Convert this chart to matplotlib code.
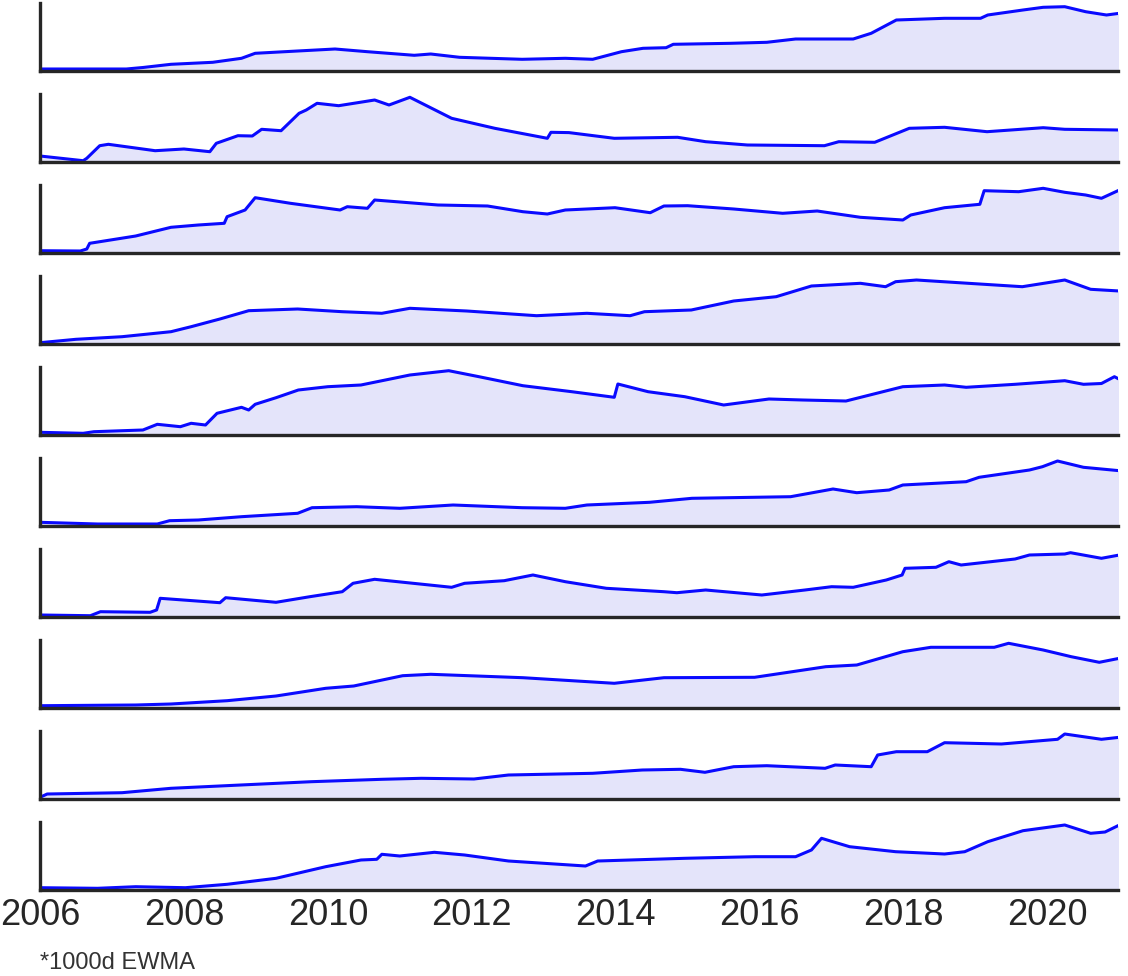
import matplotlib
matplotlib.use("Agg")
import matplotlib.pyplot as plt

plt.rcParams['font.family'] = ['Liberation Sans', 'DejaVu Sans']

tick_years = [2006, 2008, 2010, 2012, 2014, 2016, 2018, 2020]
tick_labels = [str(y) for y in tick_years]
x_range = (2006.0, 2020.98)
footnote = "*1000d EWMA"

# each series: (years, values)
s1_x = [2006.0, 2007.2, 2007.43, 2007.82, 2008.4, 2008.8, 2008.99, 2009.58, 2010.1, 2010.55, 2011.2, 2011.43, 2011.83, 2012.7,
        2013.3, 2013.68, 2014.08, 2014.38, 2014.7, 2014.8, 2015.6, 2016.1, 2016.5, 2017.3, 2017.55, 2017.9, 2018.57, 2019.07,
        2019.17, 2019.66, 2019.94, 2020.24, 2020.53, 2020.82, 2021.0]
s1_y = [2.0, 2.0, 3.5, 6.7, 8.7, 12.7, 17.7, 20, 22, 19.3, 15.7, 17, 13.7, 11.7,
        12.7, 11.7, 19.3, 22.7, 23.3, 26.7, 27.7, 28.7, 32, 32, 37.7, 51, 52.7, 52.7,
        56, 61, 63.7, 64.3, 59.3, 56, 57.7]

s2_x = [2006.0, 2006.6, 2006.65, 2006.83, 2006.95, 2007.6, 2008.0, 2008.36, 2008.45, 2008.75, 2008.95, 2009.08, 2009.35,
        2009.6, 2009.7, 2009.85, 2010.15, 2010.65, 2010.85, 2011.14, 2011.72, 2012.32, 2013.05, 2013.1, 2013.35, 2013.98,
        2014.86, 2015.25, 2015.83, 2016.9, 2017.1, 2017.6, 2018.08, 2018.57, 2019.16, 2019.94, 2020.24, 2021.0]
s2_y = [6, 1.3, 3.7, 16.3, 17.7, 11.3, 13, 10.3, 18.7, 26.3, 26, 32.7, 31.3,
        48.7, 52, 58.7, 56.3, 62, 57, 64.7, 43.7, 33.7, 23.7, 29.7, 29.4, 23.7,
        24.7, 20.3, 17, 16.3, 20.3, 19.7, 33.7, 34.7, 30.3, 34.3, 32.7, 32]

s3_x = [2006.0, 2006.56, 2006.65, 2006.69, 2007.33, 2007.82, 2008.2, 2008.56, 2008.6, 2008.85, 2008.99, 2009.48, 2010.17,
        2010.27, 2010.55, 2010.65, 2011.53, 2012.22, 2012.71, 2013.05, 2013.3, 2013.99, 2014.48, 2014.67, 2015.0, 2015.64,
        2016.32, 2016.8, 2017.4, 2017.99, 2018.1, 2018.57, 2019.06, 2019.12, 2019.6, 2019.94, 2020.24, 2020.53, 2020.75, 2021.0]
s3_y = [2.3, 2, 4, 9.7, 17, 25.7, 28, 29.7, 36.3, 43, 55.3, 49.7, 43,
        46.3, 44.7, 53, 48, 47, 41.3, 39, 43, 45.3, 40.3, 47, 47.3, 44,
        39.7, 42, 35.7, 33, 38, 45.3, 48.7, 62.3, 61.3, 64.7, 60.7, 58, 54.7, 63]

s4_x = [2006.0, 2006.5, 2007.14, 2007.82, 2008.1, 2008.5, 2008.9, 2009.58, 2010.2, 2010.75, 2011.14, 2011.93, 2012.9,
        2013.6, 2014.2, 2014.4, 2015.05, 2015.64, 2016.23, 2016.72, 2017.4, 2017.75, 2017.89, 2018.18, 2018.9, 2019.65,
        2020.24, 2020.6, 2021.0]
s4_y = [1.3, 4.7, 7.3, 12.3, 17.3, 25, 33.3, 35, 32.3, 30.7, 35.7, 33, 28.3,
        30.7, 28.3, 32.3, 34, 43, 47.3, 58, 60.7, 57.3, 62.3, 64, 60.7, 57.3,
        64, 54.7, 53]

s5_x = [2006.0, 2006.6, 2006.75, 2007.43, 2007.63, 2007.95, 2008.1, 2008.3, 2008.46, 2008.8, 2008.9, 2008.99, 2009.28,
        2009.59, 2010.0, 2010.46, 2011.14, 2011.68, 2012.1, 2012.71, 2013.39, 2013.98, 2014.03, 2014.45, 2014.96, 2015.5,
        2016.13, 2016.6, 2017.2, 2017.99, 2018.57, 2018.87, 2019.55, 2020.24, 2020.5, 2020.75, 2020.93, 2021.0]
s5_y = [2.7, 1.7, 3.3, 5, 10.7, 8.3, 11.7, 10, 21.7, 27.7, 25, 30.7, 37.3,
        45, 48.3, 50, 60, 64.3, 58.3, 49.3, 43.3, 37.7, 51, 43.3, 38.3, 30,
        36, 35, 34, 48.3, 50, 47.7, 50.7, 54.3, 50.7, 51.5, 58.3, 55.7]

s6_x = [2006.0, 2006.8, 2007.63, 2007.8, 2008.2, 2008.8, 2009.58, 2009.78, 2010.4, 2011.0, 2011.74, 2012.7, 2013.3,
        2013.6, 2014.47, 2015.06, 2016.43, 2017.02, 2017.35, 2017.8, 2017.99, 2018.87, 2019.05, 2019.75, 2019.93, 2020.14,
        2020.5, 2021.0]
s6_y = [3.7, 2, 2, 5.3, 6, 9.3, 12.7, 18.3, 19.3, 17.7, 21, 18.3, 17.7,
        21, 23.7, 27.7, 29.3, 37, 33.3, 36, 41, 44.3, 48.7, 56, 59.3, 65,
        58.7, 55.3]

s7_x = [2006.0, 2006.7, 2006.84, 2007.53, 2007.62, 2007.67, 2008.5, 2008.58, 2009.28, 2009.75, 2010.2, 2010.35, 2010.65,
        2011.72, 2011.9, 2012.45, 2012.85, 2013.3, 2013.87, 2014.67, 2014.85, 2015.25, 2016.03, 2016.63, 2017.0, 2017.3,
        2017.76, 2017.98, 2018.02, 2018.45, 2018.63, 2018.8, 2019.55, 2019.75, 2020.24, 2020.32, 2020.75, 2021.0]
s7_y = [2, 1.3, 5.3, 4.7, 7, 18.7, 14.3, 19.3, 14.7, 20.3, 25.3, 33.7, 37.7,
        29.7, 33.7, 36.3, 42, 35.3, 28.7, 25.3, 24.3, 27, 22, 27, 30.3, 29.7,
        37, 42, 48.7, 49.7, 55.3, 52, 58, 62, 63, 64.3, 58.7, 62]

s8_x = [2006.0, 2007.33, 2007.82, 2008.6, 2009.28, 2009.97, 2010.36, 2011.04, 2011.43, 2012.71, 2013.98, 2014.67, 2015.93,
        2016.92, 2017.35, 2017.99, 2018.38, 2019.26, 2019.46, 2019.94, 2020.33, 2020.72, 2021.0]
s8_y = [2.3, 3, 4, 7.3, 12, 19.7, 22, 32.3, 33.7, 30.3, 24.7, 30.3, 30.7,
        41.3, 43, 56.3, 60.7, 60.7, 64.7, 58, 51.3, 45.7, 49.7]

s9_x = [2006.0, 2006.1, 2007.14, 2007.82, 2008.79, 2009.77, 2010.75, 2011.3, 2012.03, 2012.51, 2013.68, 2014.37, 2014.9,
        2015.24, 2015.64, 2016.1, 2016.91, 2017.05, 2017.55, 2017.64, 2017.9, 2018.33, 2018.57, 2019.36, 2020.14, 2020.24,
        2020.75, 2021.0]
s9_y = [1.7, 5, 6.3, 10.7, 14, 17.3, 19.7, 20.7, 20, 24, 25.7, 29, 29.7,
        26.7, 32.3, 33.3, 30.7, 34, 32.3, 44, 47.3, 47.3, 56.3, 55, 59.7, 65,
        59.7, 61.7]

s10_x = [2006.0, 2006.8, 2007.33, 2008.02, 2008.6, 2009.28, 2009.97, 2010.46, 2010.68, 2010.75, 2011.0, 2011.48, 2011.9,
         2012.51, 2013.58, 2013.75, 2014.96, 2015.93, 2016.5, 2016.72, 2016.86, 2017.25, 2017.89, 2018.57, 2018.85, 2019.17,
         2019.66, 2020.24, 2020.6, 2020.8, 2021.0]
s10_y = [2.3, 1.7, 3.3, 2.3, 5.7, 11.7, 23.3, 30, 30.7, 35.7, 34, 37.7, 35,
         29, 24, 29, 31.7, 33.3, 33.3, 40, 51.7, 43.3, 38.3, 36, 38.3, 48.3,
         59.3, 65, 56.7, 58, 65]

series = [(s1_x, s1_y), (s2_x, s2_y), (s3_x, s3_y), (s4_x, s4_y), (s5_x, s5_y),
          (s6_x, s6_y), (s7_x, s7_y), (s8_x, s8_y), (s9_x, s9_y), (s10_x, s10_y)]

fig = plt.figure(figsize=(11.28, 9.76), dpi=100)
W, H = 1128.0, 976.0
left, right = 40 / W, 1118 / W
top_px = 3.0
panel_h = 68.0
step = 91.0
spine_color = '#262626'

for i, (xs, ys) in enumerate(series):
    t = top_px + i * step
    ax = fig.add_axes([left, 1 - (t + panel_h) / H, right - left, panel_h / H])
    ax.fill_between(xs, ys, 0, color='#e4e4fa', linewidth=0)
    ax.plot(xs, ys, color='#0a0aff', linewidth=2.2, solid_joinstyle='round')
    ax.set_xlim(*x_range)
    ax.set_ylim(0, 68)
    for s in ['top', 'right']:
        ax.spines[s].set_visible(False)
    for s in ['left', 'bottom']:
        ax.spines[s].set_color(spine_color)
        ax.spines[s].set_linewidth(2.4)
    ax.set_yticks([])
    ax.set_xticks(tick_years)
    ax.tick_params(axis='x', length=0, pad=6, labelsize=26, labelcolor='#262626')
    if i < len(series) - 1:
        ax.set_xticklabels([])
    else:
        ax.set_xticklabels(tick_labels)
    ax.set_facecolor('white')

fig.text(40 / W, 1 - 969 / H, footnote, fontsize=17, color='#333333', ha='left', va='baseline')

fig.savefig('out.png', dpi=100, facecolor='white')
